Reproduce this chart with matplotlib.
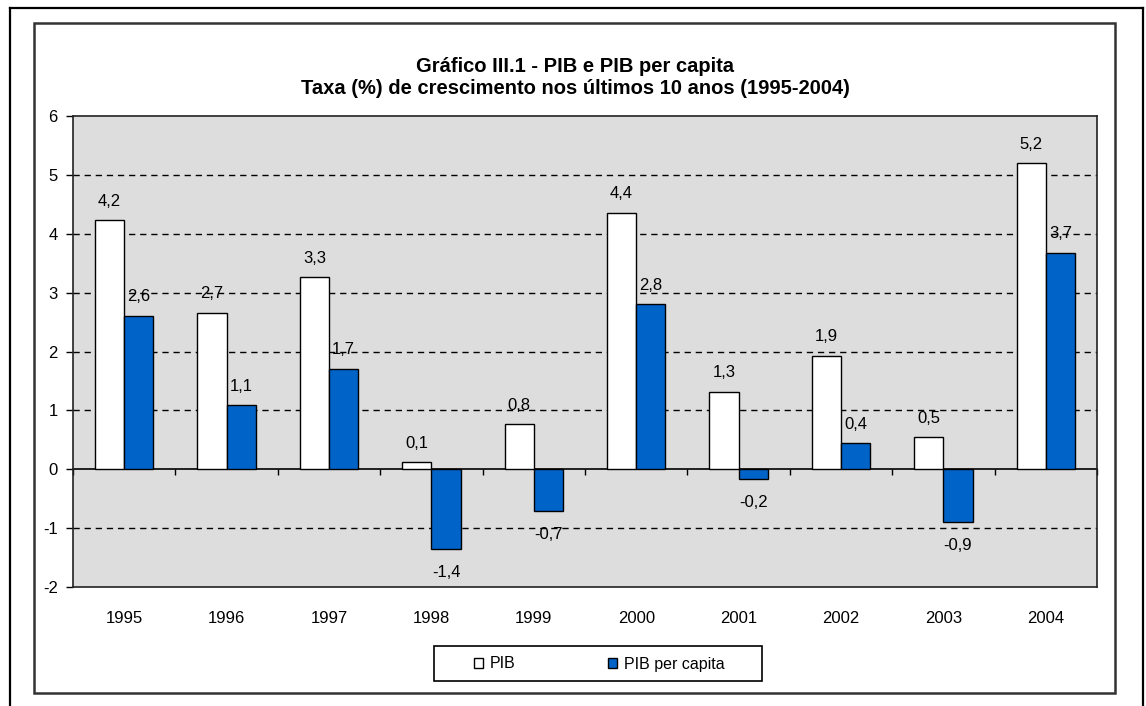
import matplotlib.pyplot as plt
import numpy as np
from matplotlib.lines import Line2D
from matplotlib.patches import Rectangle

plt.rcParams['font.family'] = ['Liberation Sans', 'DejaVu Sans']
plt.rcParams['axes.unicode_minus'] = False

anos = ['1995', '1996', '1997', '1998', '1999', '2000', '2001', '2002', '2003', '2004']
pib = [4.23, 2.66, 3.26, 0.12, 0.77, 4.36, 1.32, 1.93, 0.54, 5.2]
pib_pc = [2.61, 1.09, 1.71, -1.36, -0.71, 2.81, -0.16, 0.44, -0.9, 3.68]

W, H = 1146, 706
fig = plt.figure(figsize=(W / 100, H / 100), dpi=100)

# frames around the chart (pixel coords -> figure fraction)
def fx(px):
    return px / W

def fy(py):
    return 1 - py / H

fig.add_artist(Line2D([fx(10), fx(1143)], [fy(8), fy(8)], color='black', lw=1.6))
fig.add_artist(Line2D([fx(10), fx(10)], [fy(8), fy(706)], color='black', lw=1.6))
fig.add_artist(Line2D([fx(1143), fx(1143)], [fy(8), fy(706)], color='black', lw=1.6))
fig.add_artist(Rectangle((fx(34), fy(693)), fx(1115) - fx(34), fy(23) - fy(693),
                         fill=False, edgecolor='#333333', lw=1.8))

ax = fig.add_axes([fx(73), fy(587), fx(1097) - fx(73), fy(116) - fy(587)])
ax.set_facecolor('#dddddd')

x = np.arange(len(anos))
w = 0.286
b1 = ax.bar(x - w / 2, pib, w, color='white', edgecolor='black', lw=1.0, label='PIB', zorder=3)
b2 = ax.bar(x + w / 2, pib_pc, w, color='#0063c8', edgecolor='black', lw=1.0, label='PIB per capita', zorder=3)

for bars, vals in ((b1, pib), (b2, pib_pc)):
    for r, v in zip(bars, vals):
        cx = r.get_x() + r.get_width() / 2
        off = 13.5 if v >= 0 else -17
        ax.annotate(f'{v:.1f}'.replace('.', ','), (cx, v), xytext=(0, off),
                    textcoords='offset points', ha='center', va='center',
                    fontsize=12, zorder=4)

ax.set_xlim(-0.5, len(anos) - 0.5)
ax.set_ylim(-2, 6)
ax.set_yticks(range(-2, 7))
ax.tick_params(axis='y', length=5, width=1, pad=6, labelsize=12)
ax.set_xticks(x)
ax.set_xticklabels(anos)
ax.tick_params(axis='x', length=0, pad=17, labelsize=12)

for g in [-1, 1, 2, 3, 4, 5]:
    ax.axhline(g, color='black', lw=1.0, ls=(0, (4.5, 3.5)), zorder=1)

for s in ax.spines.values():
    s.set_color('#222222')
    s.set_linewidth(1.2)

# x axis at zero with ticks on category boundaries
sec = ax.secondary_xaxis(0.25)
sec.set_xticks(np.arange(-0.5, len(anos), 1.0))
sec.set_xticklabels([])
sec.tick_params(length=4, width=1, direction='out')
sec.spines['bottom'].set_linewidth(1.2)
sec.spines['bottom'].set_color('black')

fig.text(fx(575), fy(66), 'Gráfico III.1 - PIB e PIB per capita', ha='center', va='center',
         fontsize=14.5, fontweight='bold')
fig.text(fx(575), fy(89), 'Taxa (%) de crescimento nos últimos 10 anos (1995-2004)', ha='center',
         va='center', fontsize=14.5, fontweight='bold')

# legend box
fig.add_artist(Rectangle((fx(434), fy(681)), fx(762) - fx(434), fy(646) - fy(681),
                         fill=False, edgecolor='black', lw=1.2))
leg = fig.legend(loc='center', bbox_to_anchor=(fx(599), fy(664)), ncol=2, fontsize=11.5,
                 frameon=False, handlelength=0.6, handleheight=0.6,
                 handletextpad=0.4, columnspacing=5.8, borderpad=0.3)

fig.savefig('out.png', dpi=100)
